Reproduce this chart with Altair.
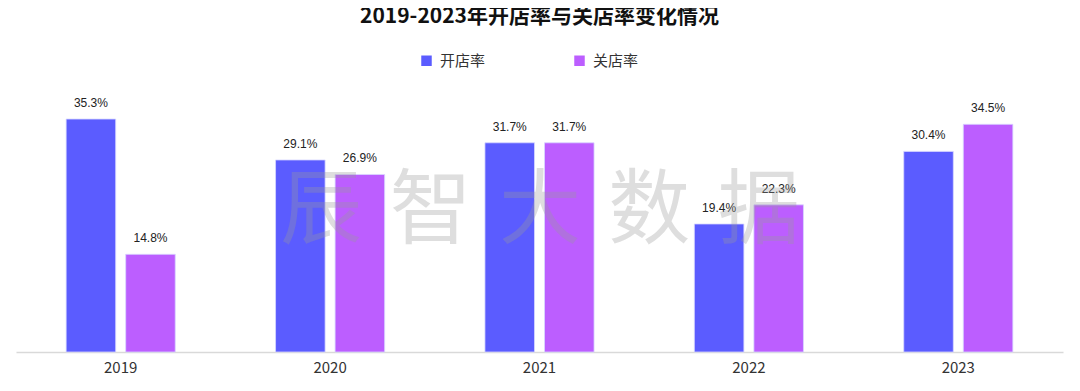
import altair as alt
import pandas as pd

years = ["2019", "2020", "2021", "2022", "2023"]
series = ["开店率", "关店率"]
open_rate = [35.3, 29.1, 31.7, 19.4, 30.4]
close_rate = [14.8, 26.9, 31.7, 22.3, 34.5]
colors = ["#5B5CFF", "#BC5EFF"]

rows = []
for i, y in enumerate(years):
    rows.append({"year": y, "series": series[0], "value": open_rate[i], "label": f"{open_rate[i]:.1f}%"})
    rows.append({"year": y, "series": series[1], "value": close_rate[i], "label": f"{close_rate[i]:.1f}%"})
df = pd.DataFrame(rows)

cjk = "Noto Sans CJK SC"

x = alt.X("year:N", sort=years, title=None,
          scale=alt.Scale(paddingInner=0.479, paddingOuter=0.2395),
          axis=alt.Axis(labelAngle=0, labelFontSize=15, labelColor="#333333", labelFont=cjk,
                        labelPadding=8, ticks=False, domainColor="#D9D9D9", domainWidth=1.5,
                        grid=False))
xo = alt.XOffset("series:N", sort=series, scale=alt.Scale(paddingInner=0.168, paddingOuter=0))
y = alt.Y("value:Q", scale=alt.Scale(domain=[0, 39.7]), axis=None)

bars = alt.Chart(df).mark_bar(stroke="#D8D8FF", strokeWidth=0.8).encode(
    x=x, xOffset=xo, y=y,
    color=alt.Color("series:N", sort=series,
                    scale=alt.Scale(domain=series, range=colors),
                    legend=alt.Legend(title=None, orient="none", direction="horizontal",
                                      legendX=403, legendY=-37, symbolType="square",
                                      symbolSize=110, symbolStrokeWidth=0,
                                      labelFontSize=15, labelColor="#333333", labelFont=cjk,
                                      columnPadding=86, labelOffset=6))
)

labels = alt.Chart(df).mark_text(dy=-9, baseline="bottom", fontSize=12, color="#222222",
                                 font="Liberation Sans").encode(
    x=x, xOffset=xo, y=y, text="label:N"
)

wm_df = pd.DataFrame({"t": ["辰\u2004智\u2004大\u2004数\u2004据"]})
watermark = alt.Chart(wm_df).mark_text(fontSize=82, font=cjk, color="#9A9A9A", opacity=0.32,
                                       align="center", baseline="middle").encode(
    x=alt.value(524), y=alt.value(122), text="t:N"
)

chart = alt.layer(bars, labels, watermark).properties(
    width=1047, height=262,
    autosize=alt.AutoSizeParams(type="none"),
    padding={"left": 8, "top": 82, "right": 8, "bottom": 30},
    title=alt.TitleParams("2019-2023年开店率与关店率变化情况", fontSize=21, fontWeight="bold",
                          font=cjk, color="#111111", anchor="middle", offset=26),
).configure_view(stroke=None)

chart.save("out.html", embed_options={"renderer": "svg", "actions": False})
